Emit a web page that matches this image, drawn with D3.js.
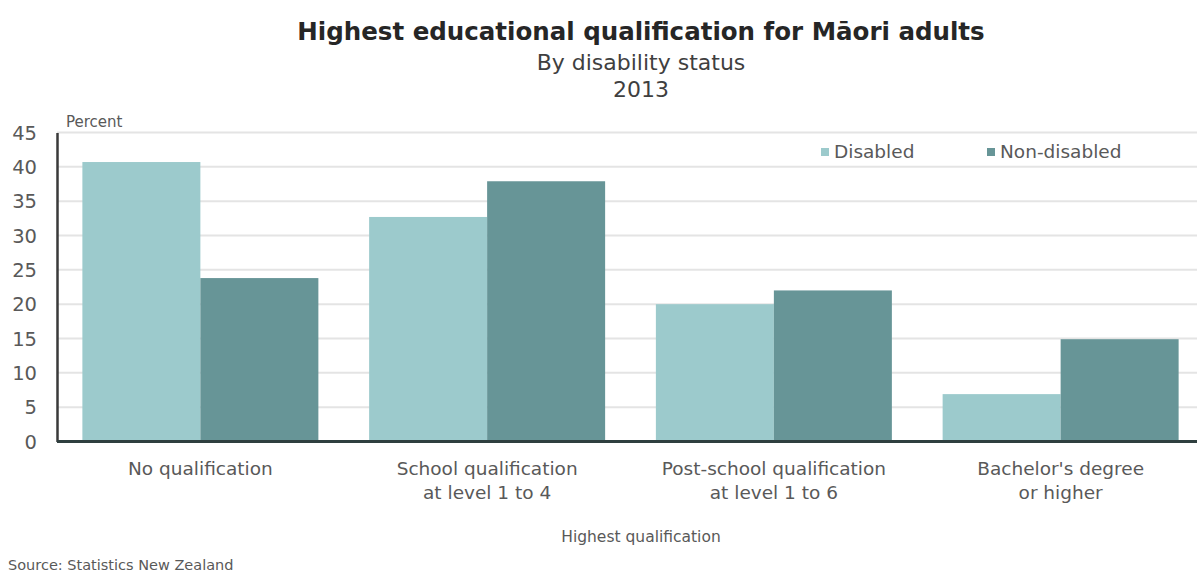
<!DOCTYPE html>
<html>
<head>
<meta charset="utf-8">
<script src="https://cdn.jsdelivr.net/npm/d3@7"></script>
<style>
  html, body { margin: 0; padding: 0; background: #fff; }
  svg { display: block; font-family: "DejaVu Sans", "Liberation Sans", Arial, sans-serif; }
</style>
</head>
<body>
<svg id="chart" width="1197" height="575"></svg>
<script>
const categories = [
  ["No qualification"],
  ["School qualification", "at level 1 to 4"],
  ["Post-school qualification", "at level 1 to 6"],
  ["Bachelor's degree", "or higher"]
];
const seriesNames = ["Disabled", "Non-disabled"];
const disabled = [40.7, 32.7, 20.0, 6.9];
const nonDisabled = [23.8, 37.9, 22.0, 14.9];
const yTicks = [0, 5, 10, 15, 20, 25, 30, 35, 40, 45];
const titleText = "Highest educational qualification for Māori adults";
const subtitleText = ["By disability status", "2013"];
const yAxisLabel = "Percent";
const xAxisLabel = "Highest qualification";
const sourceText = "Source: Statistics New Zealand";

const colors = { "Disabled": "#9ccacc", "Non-disabled": "#679597" };
const textColor = "#595959";

const svg = d3.select("#chart");
const plotLeft = 57, plotRight = 1204, plotTop = 132.5, plotBottom = 441.5;

const catKeys = categories.map(c => c.join(" "));
const data = catKeys.map((k, i) => ({ key: k, lines: categories[i], values: [disabled[i], nonDisabled[i]] }));

const x0 = d3.scaleBand().domain(catKeys).range([plotLeft, plotRight]).paddingInner(0.177).paddingOuter(0.0885);
const x1 = d3.scaleBand().domain(seriesNames).range([0, x0.bandwidth()]);
const y = d3.scaleLinear().domain([0, 45]).range([plotBottom, plotTop]);

// gridlines
svg.append("g").selectAll("line").data(yTicks.filter(d => d > 0)).join("line")
  .attr("x1", plotLeft).attr("x2", 1197)
  .attr("y1", d => y(d)).attr("y2", d => y(d))
  .attr("stroke", "#e4e4e4").attr("stroke-width", 2);

// bars
const groups = svg.append("g").selectAll("g").data(data).join("g")
  .attr("transform", d => `translate(${x0(d.key)},0)`);
groups.selectAll("rect").data(d => d.values.map((v, j) => ({ s: seriesNames[j], v })))
  .join("rect")
  .attr("x", d => x1(d.s)).attr("width", x1.bandwidth())
  .attr("y", d => y(d.v)).attr("height", d => y(0) - y(d.v))
  .attr("fill", d => colors[d.s]);

// y axis
const yAxis = d3.axisLeft(y).tickValues(yTicks).tickSize(0).tickPadding(20);
const yg = svg.append("g").attr("transform", `translate(${plotLeft},0)`).call(yAxis);
yg.select(".domain").attr("stroke", "#3a3a3a").attr("stroke-width", 2.5);
yg.selectAll("text").attr("font-size", 19.5).attr("fill", textColor)
  .attr("font-family", "DejaVu Sans, sans-serif").attr("dy", "0.35em");

// x axis
const xAxis = d3.axisBottom(x0).tickSize(0).tickFormat("");
const xg = svg.append("g").attr("transform", `translate(0,${plotBottom})`).call(xAxis);
xg.select(".domain").attr("d", `M${plotLeft},0H1197`).attr("stroke", "#2f3f3f").attr("stroke-width", 3);
xg.selectAll(".tick").each(function(d) {
  const cat = data.find(e => e.key === d);
  const t = d3.select(this).append("text")
    .attr("text-anchor", "middle").attr("fill", textColor).attr("font-size", 18.5)
    .attr("font-family", "DejaVu Sans, sans-serif");
  cat.lines.forEach((ln, i) => {
    t.append("tspan").attr("x", 0).attr("y", 33 + i * 24).text(ln);
  });
});

// titles
svg.append("text").attr("x", 641).attr("y", 40).attr("text-anchor", "middle")
  .attr("font-size", 24.5).attr("font-weight", "bold").attr("fill", "#262626").text(titleText);
subtitleText.forEach((s, i) => {
  svg.append("text").attr("x", 641).attr("y", 70 + i * 27).attr("text-anchor", "middle")
    .attr("font-size", 22).attr("fill", "#3f3f3f").text(s);
});

svg.append("text").attr("x", 66).attr("y", 127).attr("font-size", 15).attr("fill", textColor).text(yAxisLabel);
svg.append("text").attr("x", 641).attr("y", 542).attr("text-anchor", "middle")
  .attr("font-size", 15.5).attr("fill", textColor).text(xAxisLabel);
svg.append("text").attr("x", 8).attr("y", 570).attr("font-size", 14.5).attr("fill", textColor).text(sourceText);

// legend
const legendX = [821, 987];
const lg = svg.append("g").selectAll("g").data(seriesNames).join("g")
  .attr("transform", (d, i) => `translate(${legendX[i]},152)`);
lg.append("rect").attr("x", 0).attr("y", -4).attr("width", 8).attr("height", 8).attr("fill", d => colors[d]);
lg.append("text").attr("x", 13).attr("y", 0).attr("dy", "0.35em").attr("font-size", 18.5)
  .attr("fill", textColor).text(d => d);
</script>
</body>
</html>
